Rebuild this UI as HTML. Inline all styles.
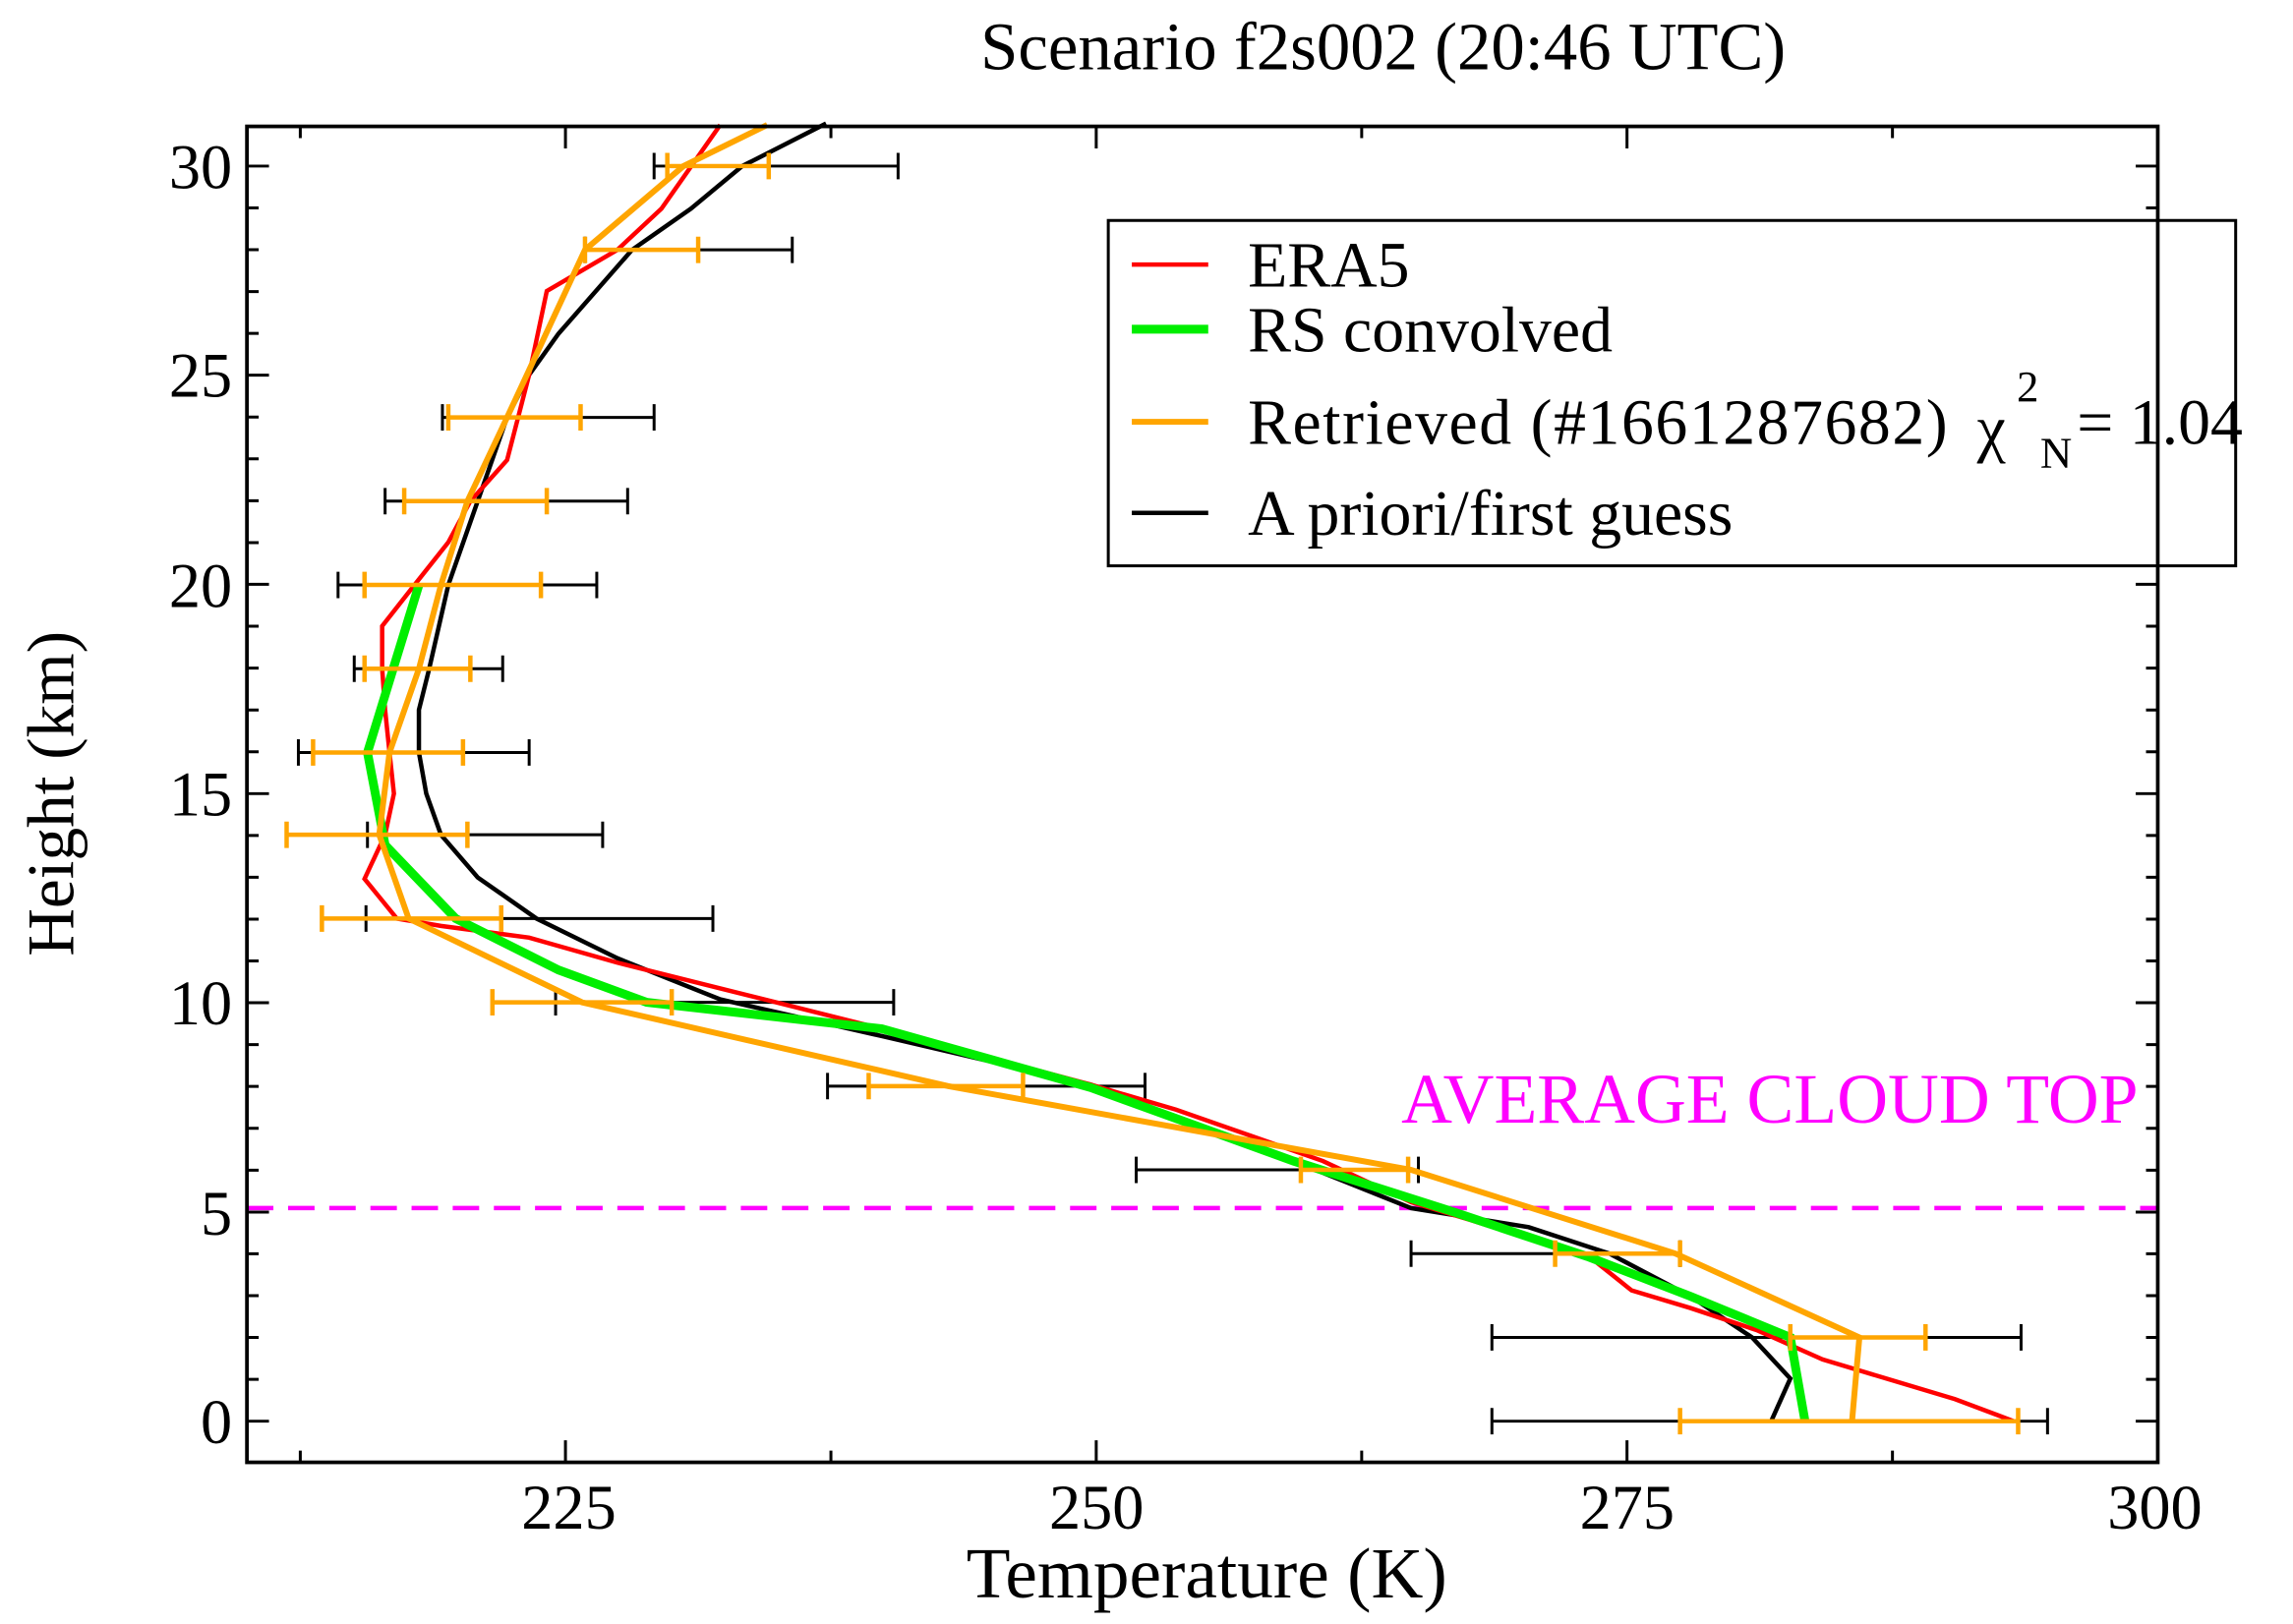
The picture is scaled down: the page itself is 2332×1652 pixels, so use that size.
<!DOCTYPE html>
<html><head><style>html,body{margin:0;padding:0;background:#fff}svg{display:block}</style></head>
<body>
<svg width="2332" height="1652" viewBox="0 0 1560 1105" preserveAspectRatio="none" xmlns="http://www.w3.org/2000/svg" font-family="Liberation Serif, serif">
<rect width="1560" height="1105" fill="#fff"/>
<text x="941" y="47" font-size="46" text-anchor="middle">Scenario f2s002 (20:46 UTC)</text>
<g stroke="#000" stroke-width="2">
<path d="M384.7,995v-15M384.7,86v15M745.8,995v-15M745.8,86v15M1106.9,995v-15M1106.9,86v15M204.3,995v-8M204.3,86v8M565.3,995v-8M565.3,86v8M926.4,995v-8M926.4,86v8M1287.5,995v-8M1287.5,86v8"/>
<path d="M168,967h15M168,824.7h15M168,682.3h15M168,540h15M168,397.6h15M168,255.3h15M168,113h15M1468,967h-15M1468,824.7h-15M1468,682.3h-15M1468,540h-15M1468,397.6h-15M1468,255.3h-15M1468,113h-15"/>
<path d="M168,938.5h8M168,910h8M168,881.6h8M168,853.1h8M168,796.2h8M168,767.7h8M168,739.2h8M168,710.8h8M168,653.8h8M168,625.4h8M168,596.9h8M168,568.5h8M168,511.5h8M168,483.1h8M168,454.6h8M168,426.1h8M168,369.2h8M168,340.7h8M168,312.2h8M168,283.8h8M168,226.8h8M168,198.4h8M168,169.9h8M168,141.5h8
M1468,938.5h-8M1468,910h-8M1468,881.6h-8M1468,853.1h-8M1468,796.2h-8M1468,767.7h-8M1468,739.2h-8M1468,710.8h-8M1468,653.8h-8M1468,625.4h-8M1468,596.9h-8M1468,568.5h-8M1468,511.5h-8M1468,483.1h-8M1468,454.6h-8M1468,426.1h-8M1468,369.2h-8M1468,340.7h-8M1468,312.2h-8M1468,283.8h-8M1468,226.8h-8M1468,198.4h-8M1468,169.9h-8M1468,141.5h-8"/>
</g>
<g font-size="43" text-anchor="end">
<text x="158" y="982">0</text><text x="158" y="840">5</text><text x="158" y="697">10</text><text x="158" y="555">15</text><text x="158" y="413">20</text><text x="158" y="270">25</text><text x="158" y="128">30</text>
</g>
<g font-size="43" text-anchor="middle">
<text x="387" y="1040">225</text><text x="746" y="1040">250</text><text x="1107" y="1040">275</text><text x="1466" y="1040">300</text>
</g>
<text x="821" y="1087" font-size="49" text-anchor="middle">Temperature (K)</text>
<text transform="translate(50,540) rotate(-90)" font-size="45" text-anchor="middle">Height (km)</text>
<line x1="168" y1="822" x2="1468" y2="822" stroke="#f0f" stroke-width="3" stroke-dasharray="18,10"/>
<text x="1204" y="764" font-size="48" fill="#f0f" text-anchor="middle">AVERAGE CLOUD TOP</text>
<g stroke="#000" stroke-width="2" fill="none">
<path d="M1015,967h378M1015,958v18M1393,958v18M1015,910h360M1015,901v18M1375,901v18M960,853h183M960,844v18M1143,844v18M773,796h192M773,787v18M965,787v18M563,739h216M563,730v18M779,730v18M378,682h230M378,673v18M608,673v18M249,625h236M249,616v18M485,616v18M250,568h160M250,559v18M410,559v18M203,512h157M203,503v18M360,503v18M241,455h101M241,446v18M342,446v18M230,398h176M230,389v18M406,389v18M262,341h165M262,332v18M427,332v18M301,284h144M301,275v18M445,275v18M398,170h141M398,161v18M539,161v18M445,113h166M445,104v18M611,104v18"/>
</g>
<polyline fill="none" stroke="#000" stroke-width="3" points="1205,967 1218,938 1192,910 1150,882 1095,853 1040,835 960,822 880,790 742,738 600,705 490,680 420,652 365,625 325,597 300,568 290,540 285,512 285,483 292,455 305,398 325,341 345,284 360,255 380,227 430,170 470,142 505,113 562,84"/>
<polyline fill="none" stroke="#f00" stroke-width="3" points="1370,967 1330,952 1240,925 1195,905 1150,890 1110,878 1085,858 1070,852 1000,830 960,818 900,790 800,755 742,738 600,700 500,675 420,655 360,638 300,630 270,625 248,598 262,568 268,540 265,512 262,483 260,455 260,426 282,398 305,369 320,341 345,313 360,255 372,198 420,170 450,142 490,85"/>
<polyline fill="none" stroke="#0e0" stroke-width="6" points="1228,967 1218,910 1150,882 1080,855 990,825 880,790 742,740 600,700 440,682 380,660 310,625 262,575 250,512 285,398"/>
<g stroke="#ffa500" stroke-width="3" fill="none">
<path d="M1143,967h230M1143,958v18M1373,958v18M1218,910h92M1218,901v18M1310,901v18M1058,853h85M1058,844v18M1143,844v18M885,796h73M885,787v18M958,787v18M591,739h105M591,730v18M696,730v18M335,682h122M335,673v18M457,673v18M219,625h122M219,616v18M341,616v18M195,568h123M195,559v18M318,559v18M213,512h102M213,503v18M315,503v18M248,455h72M248,446v18M320,446v18M248,398h120M248,389v18M368,389v18M275,341h97M275,332v18M372,332v18M305,284h90M305,275v18M395,275v18M398,170h77M398,161v18M475,161v18M454,113h69M454,104v18M523,104v18"/>
</g>
<polyline fill="none" stroke="#ffa500" stroke-width="4" points="1260,967 1265,910 1140,853 960,796 645,739 396,682 278,625 258,568 265,512 285,455 300,398 318,341 345,284 398,170 465,113 522,85"/>
<rect x="754" y="150" width="767" height="235" fill="#fff" stroke="#000" stroke-width="2"/>
<line x1="770" y1="180" x2="822" y2="180" stroke="#f00" stroke-width="3"/>
<line x1="770" y1="224" x2="822" y2="224" stroke="#0e0" stroke-width="6"/>
<line x1="770" y1="287" x2="822" y2="287" stroke="#ffa500" stroke-width="4"/>
<line x1="770" y1="349" x2="822" y2="349" stroke="#000" stroke-width="3"/>
<g font-size="44">
<text x="849" y="195">ERA5</text>
<text x="849" y="239">RS convolved</text>
<text x="849" y="302" textLength="476">Retrieved  (#1661287682)</text>
<text x="1345" y="306">χ</text>
<text x="1372" y="273" font-size="30">2</text>
<text x="1388" y="318" font-size="30">N</text>
<text x="1413" y="302">= 1.04</text>
<text x="849" y="364">A priori/first guess</text>
</g>
<rect x="168" y="86" width="1300" height="909" fill="none" stroke="#000" stroke-width="2.5"/>
</svg>
</body></html>
